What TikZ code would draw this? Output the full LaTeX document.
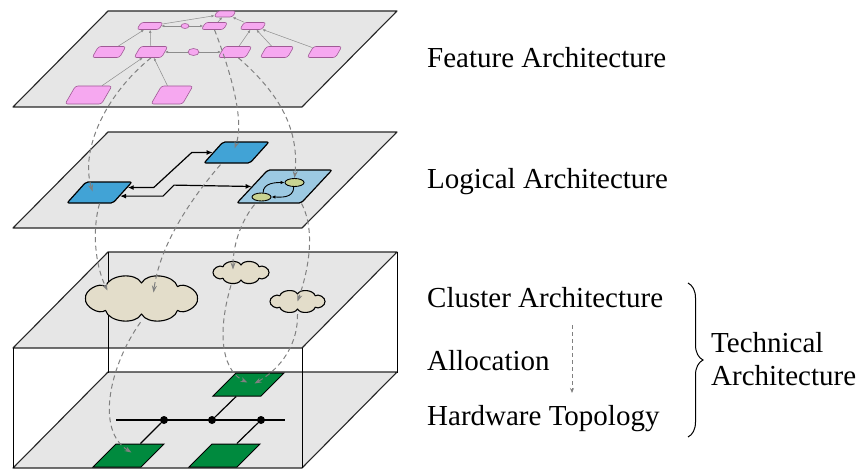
\documentclass[tikz,border=0pt]{standalone}
\usepackage{fontspec}
\setmainfont{Liberation Serif}
\usepackage{tikz}
\usetikzlibrary{
	positioning,
	arrows.meta,
	calc,
	shapes.geometric,
	decorations.pathreplacing
}

\definecolor{planegray}{RGB}{230,230,230}
\definecolor{pinkfill}{RGB}{246,168,240}
\definecolor{pinkline}{RGB}{160,90,150}
\definecolor{bluefill}{RGB}{65,163,214}
\definecolor{lightblue}{RGB}{156,201,226}
\definecolor{olivefill}{RGB}{201,211,145}
\definecolor{cloudfill}{RGB}{227,221,202}
\definecolor{hwgreen}{RGB}{0,138,62}

\tikzset{
	plane/.style={fill=planegray,draw=black!85,line width=1.1pt,line join=round},
	pinkbox/.style={trapezium,trapezium left angle=60,trapezium right angle=120,
		rounded corners=2.5pt,draw=pinkline,fill=pinkfill,line width=0.6pt,
		minimum width=0pt,minimum height=0pt},
	pinkdot/.style={ellipse,draw=pinkline,fill=pinkfill,line width=0.6pt,inner sep=0pt},
	pinkarrow/.style={draw=black!45,line width=0.5pt,-{Latex[length=3pt,width=2.6pt]}},
	lcomp/.style={trapezium,trapezium left angle=48,trapezium right angle=132,
		rounded corners=2pt,draw,line width=1.2pt,minimum width=0pt,minimum height=0pt,
		inner xsep=13.5pt,inner ysep=10.5pt},
	lport/.style={ellipse,draw,fill=olivefill,line width=0.9pt,inner sep=0pt,
		minimum width=19pt,minimum height=8pt},
	wire/.style={line width=1.2pt,{Latex[length=6pt,width=5pt]}-{Latex[length=6pt,width=5pt]}},
	portarrow/.style={line width=0.9pt,-{Latex[length=4pt,width=3.5pt]}},
	cluster/.style={ellipse,inner sep=0pt},
	puffs/.style={draw,fill=cloudfill,line width=1.1pt,line join=round},
	ecu/.style={trapezium,trapezium left angle=45,trapezium right angle=135,
		draw,fill=hwgreen,line width=1pt,minimum width=0pt,minimum height=0pt,
		inner xsep=12.5pt,inner ysep=11.5pt},
	mapping/.style={draw=black!50,line width=1pt,dash pattern=on 5pt off 3.5pt,
		-{Stealth[length=7pt,width=5pt]}},
	caption/.style={anchor=base west,inner sep=0pt,font=\fontsize{29}{33}\selectfont}
}

% cloud outline round an elliptic node: name, half width, half height, puff depth
\newcommand{\drawcluster}[4]{%
	\foreach \a [count=\i] in {0,50,90,130,180,230,270,310}
		\coordinate (#1-\i) at ($(#1.center)+({#2*cos(\a)},{-#3*sin(\a)})$);
	\path[puffs] (#1-8)
		\foreach \i [remember=\i as \j (initially 8)] in {1,...,8}
			{ .. controls ($(#1-\j)!#4!-68:(#1-\i)$) and ($(#1-\i)!#4!68:(#1-\j)$) .. (#1-\i) }
		-- cycle;
}

\begin{document}
\begin{tikzpicture}[x=1pt,y=-1pt]
	\useasboundingbox (0,0) rectangle (866,468);

	\foreach \b in {468,348,228,107}
		\draw[plane] (13,\b) -- (302,\b) -- (397,\b-96) -- (108,\b-96) -- cycle;
	\draw[line width=1pt]
		(13,348) -- (13,468) (108,252) -- (108,373)
		(302,348) -- (302,468) (397,252) -- (397,373);

	% feature architecture
	\path
		node[pinkbox,inner xsep=7.5pt,inner ysep=3pt]    (p11) at (225,14) {}
		node[pinkbox,inner xsep=9pt,inner ysep=3.5pt]    (p21) at (150,26) {}
		node[pinkdot,minimum width=8pt,minimum height=5pt] (pc1) at (185,26) {}
		node[pinkbox,inner xsep=9pt,inner ysep=3.5pt]    (p22) at (214.5,26) {}
		node[pinkbox,inner xsep=9pt,inner ysep=3.5pt]    (p23) at (253,26) {}
		node[pinkbox,inner xsep=10.5pt,inner ysep=5.5pt] (p31) at (109,52) {}
		node[pinkbox,inner xsep=10.5pt,inner ysep=5.5pt] (p32) at (151,52) {}
		node[pinkdot,minimum width=11pt,minimum height=7pt] (pc2) at (193.5,52) {}
		node[pinkbox,inner xsep=10.5pt,inner ysep=5.5pt] (p33) at (235,52) {}
		node[pinkbox,inner xsep=10.5pt,inner ysep=5.5pt] (p34) at (277,52) {}
		node[pinkbox,inner xsep=11pt,inner ysep=5.5pt]   (p35) at (324.5,52) {}
		node[pinkbox,inner xsep=13pt,inner ysep=9pt]     (p41) at (88.5,95) {}
		node[pinkbox,inner xsep=10.5pt,inner ysep=9pt]   (p42) at (172,95) {}

		(p21) edge[pinkarrow] (p11)
		(p22) edge[pinkarrow] (p11)
		(p23) edge[pinkarrow] (p11)
		(pc1) edge[pinkarrow] (p21)
		(pc1) edge[pinkarrow] (p22)
		(p31) edge[pinkarrow] (p21)
		(p32) edge[pinkarrow] (p21)
		(pc2) edge[pinkarrow] (p32)
		(pc2) edge[pinkarrow] (p33)
		(p33) edge[pinkarrow] (p23)
		(p34) edge[pinkarrow] (p23)
		(p35) edge[pinkarrow] (p23)
		(p41) edge[pinkarrow] (p32)
		(p42) edge[pinkarrow] (p32)
	;

	% logical architecture
	\node[lcomp,fill=bluefill] (b1) at (99.5,192.5) {};
	\node[lcomp,fill=bluefill] (b2) at (236.5,152.5) {};
	\node[lcomp,fill=lightblue,trapezium left angle=47,trapezium right angle=133,
		inner xsep=16.7pt,inner ysep=16.5pt] (lb) at (284.5,186.5) {};
	\node[lport] (e1) at (294.5,182.5) {};
	\node[lport] (e2) at (261.5,197) {};
	\draw[portarrow] (e2.70) .. controls +(0,-10) and +(-8,0) .. (e1.west);
	\draw[portarrow] (e1.-100) .. controls +(0,12) and +(8,0) .. (e2.east);
	\draw[wire] (b1.10) -- ++(26,0) -- ($(b2.west)+(-21,0)$) -- (b2.west);
	\draw[wire] (b1.-10) -- ++(43,0) -- ++(11,-11) -- (lb.west);

	% cluster architecture
	\node[cluster,minimum width=112pt,minimum height=31pt] (cl1) at (141.5,298.5) {};
	\node[cluster,minimum width=56pt,minimum height=15pt]  (cl2) at (241,272.5) {};
	\node[cluster,minimum width=55pt,minimum height=15pt]  (cl3) at (297.5,301.5) {};
	\drawcluster{cl1}{56}{15.5}{0.35}
	\drawcluster{cl2}{28}{7.5}{0.35}
	\drawcluster{cl3}{27.5}{7.5}{0.35}

	% hardware topology
	\coordinate (busL) at (116,420);
	\coordinate (busR) at (285,420);
	\draw[line width=1.2pt] (busL) -- (busR);
	\path
		node[circle,fill,inner sep=0pt,minimum size=8pt] (d1) at (164,420) {}
		node[circle,fill,inner sep=0pt,minimum size=8pt] (d2) at (212,420) {}
		node[circle,fill,inner sep=0pt,minimum size=8pt] (d3) at (261,420) {}
		node[ecu] (g1) at (128.5,455.5) {}
		node[ecu] (g2) at (224.5,455.5) {}
		node[ecu] (g3) at (248.5,384.5) {}
	;
	\draw[line width=1.2pt] (d1) -- (g1) (d2) -- (g3) (d3) -- (g2);

	% mappings between the layers
	\draw[mapping] (p32.south) .. controls (105,95) and (80,150) .. ($(b1.center)+(-7,-1)$);
	\draw[mapping] (p22.south) .. controls (230,70) and (245,120) .. ($(b2.center)+(-2,-4)$);
	\draw[mapping] (p33.-60) .. controls (275,90) and (300,125) .. (e1.north);
	\draw[mapping] (b1.south) .. controls (92,230) and (95,265) .. ($(cl1.center)+(-34,-8)$);
	\draw[mapping] ($(b2.south)+(-16,1)$) .. controls (190,200) and (160,245) .. ($(cl1.center)+(12,-6)$);
	\draw[mapping] ($(lb.south)+(-30,1)$) .. controls (238,225) and (233,250) .. ($(cl2.center)+(-8,-3)$);
	\draw[mapping] (lb.south east) .. controls (318,235) and (305,280) .. (cl3.center);
	\draw[mapping] ($(cl1.south)+(-1,8)$) .. controls (110,365) and (95,430) .. ($(g1.center)+(3,-3)$);
	\draw[mapping] ($(cl2.south)+(-10,5)$) .. controls (215,340) and (225,372) .. ($(g3.center)+(-1,-2)$);
	\draw[mapping] ($(cl3.south)+(0,5)$) .. controls (298,350) and (275,372) .. ($(g3.center)+(6,-1)$);

	% captions
	\node[caption] (tfeat) at (427,68)  {Feature Architecture};
	\node[caption] (tlog)  at (427,188) {Logical Architecture};
	\node[caption] (tclu)  at (427,307) {Cluster Architecture};
	\node[caption] (talloc) at (427,370) {Allocation};
	\node[caption] (thw)   at (427,425) {Hardware Topology};
	\coordinate (alloctop) at (572,325);
	\coordinate (allocbot) at (572,393);
	\draw[draw=black!50,line width=0.9pt,dash pattern=on 4pt off 3pt,
		-{Stealth[length=5pt,width=4pt]}] (alloctop) -- (allocbot);
	\coordinate (brtop) at (688,283);
	\coordinate (brbot) at (688,437);
	\draw[line width=1pt,decorate,decoration={brace,amplitude=15pt}] (brtop) -- (brbot);
	\node[caption,anchor=west,align=left] (ttech) at (711,359) {Technical\\Architecture};
\end{tikzpicture}
\end{document}
